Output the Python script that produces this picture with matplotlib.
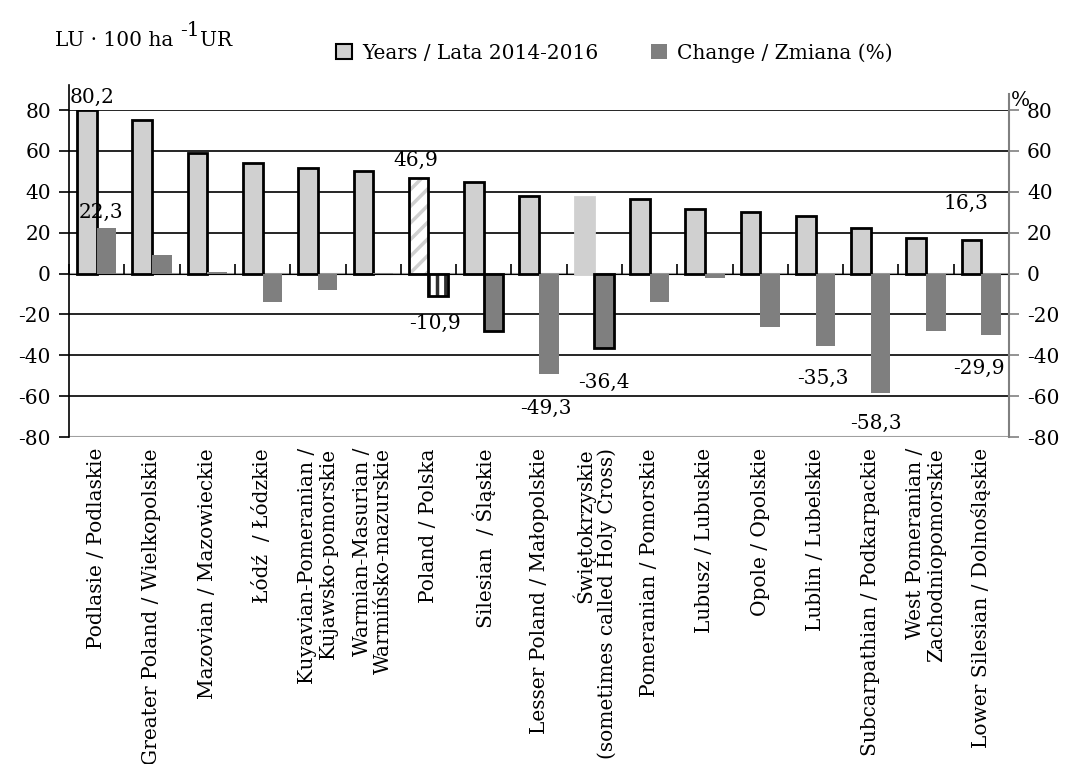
import matplotlib
matplotlib.use("Agg")
from matplotlib import pyplot as plt
from matplotlib.patches import Patch
import numpy as np

plt.rcParams['font.family'] = ['DejaVu Serif']
plt.rcParams['axes.unicode_minus'] = False
plt.rcParams['hatch.linewidth'] = 2.5

regions = ["Podlasie / Podlaskie", "Greater Poland / Wielkopolskie",
           "Mazovian / Mazowieckie", "Łódź  / Łódzkie",
           "Kuyavian-Pomeranian /\nKujawsko-pomorskie",
           "Warmian-Masurian /\nWarmińsko-mazurskie", "Poland / Polska",
           "Silesian  / Śląskie", "Lesser Poland / Małopolskie",
           "Świętokrzyskie\n(sometimes called Holy Cross)",
           "Pomeranian / Pomorskie", "Lubusz / Lubuskie", "Opole / Opolskie",
           "Lublin / Lubelskie", "Subcarpathian / Podkarpackie",
           "West Pomeranian /\nZachodniopomorskie",
           "Lower Silesian / Dolnośląskie"]
density = [80.2, 75.2, 58.9, 54.3, 51.8, 50.4, 46.9, 44.7, 37.8, 37.5,
           36.7, 31.5, 30.0, 28.2, 22.4, 17.5, 16.3]
change = [22.3, 9.3, 0.5, -13.9, -8.0, 0.3, -10.9, -27.9, -49.3, -36.4,
          -14.0, -2.3, -26.2, -35.3, -58.3, -28.2, -29.9]

# labels shown on the chart: (index, series, text)
shown_labels = [(0, 'd', "80,2"), (0, 'c', "22,3"), (6, 'd', "46,9"),
                (6, 'c', "-10,9"), (8, 'c', "-49,3"), (9, 'c', "-36,4"),
                (13, 'c', "-35,3"), (14, 'c', "-58,3"), (16, 'd', "16,3"),
                (16, 'c', "-29,9")]

light = '#d0d0d0'
dark = '#7f7f7f'
fs = 14.5
n = len(regions)
x = np.arange(n)
w = 0.355
poland = regions.index("Poland / Polska")

fig = plt.figure(figsize=(10.67, 7.64), dpi=100)
ax = fig.add_axes([0.0647, 0.428, 0.881, 0.428])
ax.set_xlim(-0.5, n - 0.5)
ax.set_ylim(-80, 80)

# gridlines
for g in [-60, -40, -20, 20, 40, 60, 80]:
    ax.axhline(g, color='black', lw=1.2, zorder=0)
ax.axhline(-80, color='#a0a0a0', lw=1.5, zorder=0)
ax.axhline(0, color='#a0a0a0', lw=1.5, zorder=0)

# density bars
d_edge = ['black'] * n
d_edge[9] = light
d_face = [light] * n
d_face[poland] = 'white'
bars_d = ax.bar(x - w / 2, density, w, color=d_face, edgecolor=d_edge, lw=2, zorder=3)
bars_d[poland].set_hatch('//')
bars_d[poland].set_edgecolor(light)
bars_d[poland].set_linewidth(0)
ax.bar(x[poland] - w / 2, density[poland], w, fill=False, edgecolor='black', lw=2, zorder=4)

# change bars
c_edge = ['none'] * n
c_edge[7] = 'black'
c_edge[9] = 'black'
c_face = [dark] * n
c_face[poland] = 'white'
bars_c = ax.bar(x + w / 2, change, w, color=c_face, edgecolor=c_edge, lw=2, zorder=3)
bars_c[poland].set_hatch('||')
bars_c[poland].set_edgecolor('#303030')
bars_c[poland].set_linewidth(0)
ax.bar(x[poland] + w / 2, change[poland], w, fill=False, edgecolor='black', lw=2, zorder=4)

# value labels
offsets = {(0, 'd'): (0.09, 86), (0, 'c'): (-0.1, 30), (6, 'd'): (-0.05, 55.3),
           (6, 'c'): (-0.06, -24.3), (8, 'c'): (-0.05, -66), (9, 'c'): (-0.01, -53.2),
           (13, 'c'): (-0.05, -51.5), (14, 'c'): (-0.08, -73.4), (16, 'd'): (-0.1, 34.4),
           (16, 'c'): (-0.23, -46.5)}
for i, s, t in shown_labels:
    base = x[i] - w / 2 if s == 'd' else x[i] + w / 2
    dx, ty = offsets[(i, s)]
    ax.text(base + dx, ty, t, ha='center', va='center', fontsize=fs, zorder=5)

# axes styling
for sp in ['top', 'right', 'bottom']:
    ax.spines[sp].set_visible(False)
ax.spines['left'].set_color('black')
ax.spines['left'].set_linewidth(1.2)
ax.spines['left'].set_bounds(-80, 92)
ax.set_yticks(np.arange(-80, 81, 20))
ax.tick_params(axis='y', direction='out', length=7, width=1.2, labelsize=fs, pad=6)
ax.set_xticks(x)
ax.set_xticklabels(regions, rotation=90, fontsize=fs, ha='center', va='top',
                   multialignment='right', linespacing=1.15)
ax.tick_params(axis='x', length=0, pad=8)

ax2 = ax.twinx()
ax2.set_ylim(-80, 80)
ax2.set_yticks(np.arange(-80, 81, 20))
for sp in ['top', 'left', 'bottom']:
    ax2.spines[sp].set_visible(False)
ax2.spines['right'].set_color('#808080')
ax2.spines['right'].set_linewidth(1.5)
ax2.spines['right'].set_bounds(-80, 88)
ax2.tick_params(axis='y', direction='out', length=7, width=1.2, color='#808080',
                labelsize=fs, pad=6)

sec = ax.secondary_xaxis(0.5)
sec.set_xticks(np.arange(-0.5, n, 1.0))
sec.set_xticklabels([])
sec.spines['bottom'].set_visible(False)
sec.tick_params(axis='x', direction='out', length=7, width=1.2, color='black')

# legend and titles
handles = [Patch(facecolor=light, edgecolor='black', lw=1.5),
           Patch(facecolor=dark, edgecolor='none')]
ax.legend(handles, ["Years / Lata 2014-2016", "Change / Zmiana (%)"],
          loc='center', bbox_to_anchor=(0.58, 1.175), ncol=2, frameon=False,
          fontsize=fs, handlelength=0.8, handleheight=0.8, handletextpad=0.5,
          columnspacing=2.6)
t1 = fig.text(0.052, 0.935, "LU · 100 ha ", fontsize=fs, va='bottom')
t2 = ax.annotate("-1", xy=(1, 0), xycoords=t1, xytext=(0, 7), textcoords='offset points',
                 fontsize=fs, va='bottom', ha='left', annotation_clip=False)
ax.annotate("UR", xy=(1, 0), xycoords=(t2, t1), fontsize=fs, va='bottom', ha='left',
            annotation_clip=False)
fig.text(0.956, 0.868, "%", fontsize=fs, ha='center', va='center')

fig.savefig("out.png", dpi=100)
